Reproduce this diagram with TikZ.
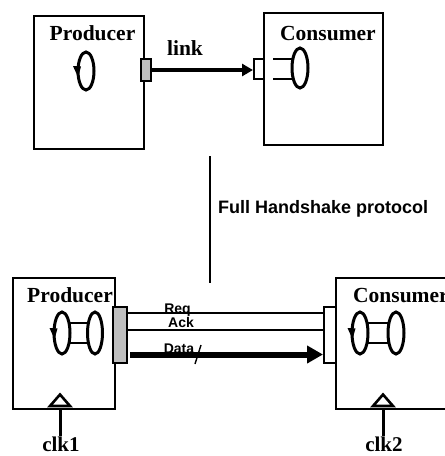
\documentclass[tikz,border=0pt]{standalone}
\usepackage{fontspec}
\setmainfont{Liberation Serif}
\setsansfont{Liberation Sans}
\usetikzlibrary{arrows.meta,calc}
\begin{document}
\begin{tikzpicture}[x=1pt,y=-1pt,
  box/.style={draw,line width=2.2pt,inner sep=0pt,anchor=north west},
  gport/.style={draw,line width=2pt,fill=black!25,inner sep=0pt,anchor=north west},
  wport/.style={draw,line width=2pt,fill=white,inner sep=0pt,anchor=north west},
  ttl/.style={font=\fontsize{21.5}{24}\selectfont\bfseries,inner sep=0pt,anchor=base},
  sl/.style={font=\fontsize{14}{16}\selectfont\sffamily\bfseries,inner sep=0pt,anchor=base},
  lp/.style={line width=3pt},
  wire/.style={line width=2pt}]
\useasboundingbox (0,0) rectangle (445,456);
\clip (0,0) rectangle (445,456);

% ---------- top ----------
\node[box,minimum width=110pt,minimum height=133pt] (p1) at (33,15) {};
\node[box,minimum width=119pt,minimum height=132pt] (c1) at (263,12) {};
\node[ttl] (p1t) at (92.5,40) {Producer};
\node[ttl] (c1t) at (328,40) {Consumer};
\node[gport,minimum width=10pt,minimum height=22pt] (p1port) at (140,58) {};
\node[wport,minimum width=10pt,minimum height=20pt] (c1port) at (253,58) {};
\draw[line width=4pt,-{Triangle[length=11pt,width=12pt]}] (p1port.east) -- (p1port.east -| c1port.west);
\node[ttl] (link) at (185,55) {link};
% producer loop
\draw[lp] (86,71) ellipse [x radius=8,y radius=19];
\fill (73,66) -- (81,66.5) -- (78,77) -- cycle;
% consumer loop
\draw[lp] (300,68) ellipse [x radius=8,y radius=20];
\draw[wire] (273,59) -- (294,59);
\draw[wire] (273,79) -- (294,79);

% ---------- divider ----------
\coordinate (v1) at (210,156);
\coordinate (v2) at (210,283);
\draw[line width=1.5pt] (v1) -- (v2);
\node[font=\fontsize{18}{20}\selectfont\sffamily\bfseries,inner sep=0pt,anchor=base west] (fh) at (218,213) {Full Handshake protocol};

% ---------- bottom ----------
\node[box,minimum width=102pt,minimum height=131pt] (p2) at (12,277) {};
\node[box,minimum width=130pt,minimum height=131pt] (c2) at (335,277) {};
\node[ttl] (p2t) at (70,302) {Producer};
\node[ttl,anchor=base west] (c2t) at (353,302) {Consumer};
\node[gport,minimum width=14pt,minimum height=56pt] (p2port) at (112,306) {};
\node[wport,minimum width=12pt,minimum height=56pt] (c2port) at (323,306) {};
\draw[wire] ([yshift=-7pt]p2port.north east) -- ([yshift=-7pt]c2port.north west);
\draw[wire] ([yshift=-24pt]p2port.north east) -- ([yshift=-24pt]c2port.north west);
\draw[line width=6pt,-{Triangle[length=16pt,width=17pt]}] ([yshift=-48.5pt,xshift=2pt]p2port.north east) -- ([yshift=-48.5pt]c2port.north west);
\node[sl] (req) at (177.5,313) {Req};
\node[sl] (ack) at (181,327) {Ack};
\node[sl] (data) at (179,353) {Data};
\draw[line width=1.4pt] (201,345) -- (195,364);
% producer loops
\draw[lp] (62,333) ellipse [x radius=8,y radius=21];
\draw[lp] (95,333) ellipse [x radius=7.5,y radius=21];
\fill (49.5,328) -- (57.5,328.5) -- (54.5,339) -- cycle;
\draw[wire] (70,323) -- (89,323);
\draw[wire] (70,343) -- (89,343);
% consumer loops
\draw[lp] (360,333) ellipse [x radius=8,y radius=21];
\draw[lp] (396,333) ellipse [x radius=8,y radius=21];
\fill (347.5,328) -- (355.5,328.5) -- (352.5,339) -- cycle;
\draw[wire] (368,323) -- (389,323);
\draw[wire] (368,343) -- (389,343);

% clocks
\node[ttl,font=\fontsize{21}{23}\selectfont\bfseries] (clk1) at (61,451.5) {clk1};
\node[ttl,font=\fontsize{21}{23}\selectfont\bfseries] (clk2) at (384,451.5) {clk2};
\coordinate (k1) at (60,436);
\coordinate (k2) at (383,436);
\draw[line width=3pt] (k1) -- (k1 |- p2.south);
\draw[line width=3pt] (k2) -- (k2 |- c2.south);
\draw[line width=2.6pt,line join=miter] (50,406) -- (60,394.5) -- (70,406) -- cycle;
\draw[line width=2.6pt,line join=miter] (373,406) -- (383,394.5) -- (393,406) -- cycle;
\end{tikzpicture}
\end{document}
